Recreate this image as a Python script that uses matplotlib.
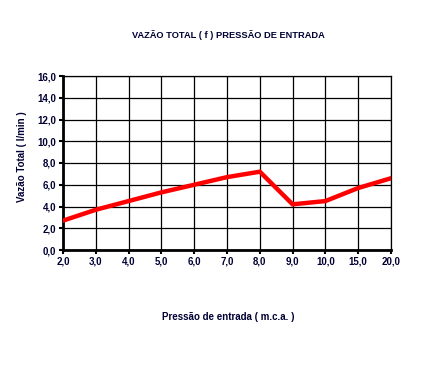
import matplotlib
matplotlib.use("Agg")
import matplotlib.pyplot as plt
from matplotlib.ticker import FuncFormatter

x_labels = ["2,0", "3,0", "4,0", "5,0", "6,0", "7,0", "8,0", "9,0", "10,0", "15,0", "20,0"]
vazao = [2.7, 3.7, 4.5, 5.3, 6.0, 6.7, 7.2, 4.2, 4.5, 5.7, 6.6]
y_ticks = [0, 2, 4, 6, 8, 10, 12, 14, 16]

plt.rcParams['font.family'] = ['Liberation Sans', 'DejaVu Sans']
txt = '#000033'

fig = plt.figure(figsize=(4.27, 3.90), dpi=100)
ax = fig.add_axes([63/427, 1-250/390, (391-63)/427, (250-76)/390])

xs = list(range(len(x_labels)))
ax.plot(xs, vazao, color='#ff0000', lw=3.2, solid_joinstyle='miter', zorder=3)

ax.set_xlim(0, len(x_labels)-1)
ax.set_ylim(0, 16)
ax.set_xticks(xs)
ax.set_xticklabels(x_labels)
ax.set_yticks(y_ticks)
ax.yaxis.set_major_formatter(FuncFormatter(lambda v, p: f"{v:.1f}".replace('.', ',')))
ax.grid(True, color='black', lw=0.9)
ax.set_axisbelow(True)
for s in ['top', 'right']:
    ax.spines[s].set_linewidth(0.9)
for s in ['left', 'bottom']:
    ax.spines[s].set_linewidth(2.0)
ax.tick_params(axis='both', direction='out', length=3, width=1.5, color='black',
               labelsize=7, labelcolor=txt, pad=2)
for lab in ax.get_xticklabels() + ax.get_yticklabels():
    lab.set_fontweight('bold')

fig.text(228/427, 1-35/390, "VAZÃO TOTAL ( f ) PRESSÃO DE ENTRADA", ha='center', va='center',
         fontsize=6.7, fontweight='bold', color=txt)
fig.text(22/427, 1-157/390, "Vazão Total ( l/min )", ha='center', va='center', rotation=90,
         fontsize=7, fontweight='bold', color=txt)
fig.text(228/427, 1-317/390, "Pressão de entrada ( m.c.a. )", ha='center', va='center',
         fontsize=7, fontweight='bold', color=txt)

fig.savefig("out.png", dpi=100)
